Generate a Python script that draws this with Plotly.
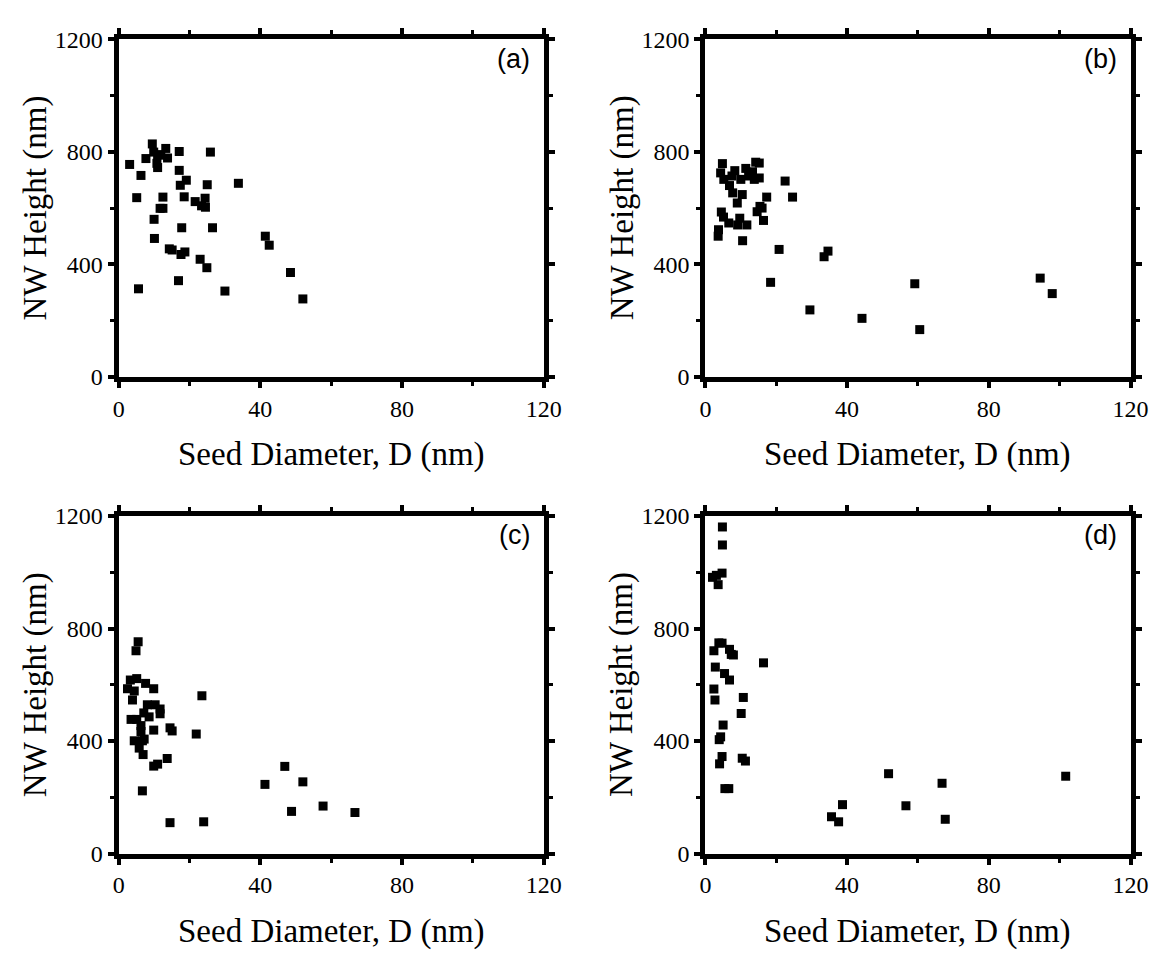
import plotly.graph_objects as go

# Panel (a)
a_d = [9.5, 13.3, 17.1, 25.9, 9.9, 11.0, 11.9, 13.8, 7.7, 3.1, 10.8, 11.0, 17.1, 6.3, 19.1, 17.4, 25.0, 33.8,
       5.1, 12.5, 18.5, 24.4, 21.6, 23.4, 24.5, 11.7, 12.5, 10.0, 17.8, 26.5, 41.4, 42.5, 10.1, 14.3, 15.1,
       17.6, 18.7, 23.0, 24.9, 48.5, 16.9, 5.6, 30.0, 52.0]
a_h = [828, 812, 801, 799, 799, 790, 788, 778, 776, 755, 759, 744, 734, 716, 699, 681, 683, 688,
       637, 639, 640, 635, 623, 608, 603, 599, 599, 560, 530, 530, 500, 468, 492, 455, 451,
       435, 444, 418, 388, 371, 342, 313, 305, 277]

# Panel (b)
b_d = [4.8, 4.3, 5.2, 7.5, 8.3, 10.0, 11.4, 12.2, 13.3, 13.8, 14.2, 15.2, 15.2, 6.8, 7.7, 10.4, 9.0, 17.3,
       22.5, 24.6, 15.4, 16.0, 14.6, 4.5, 5.1, 6.6, 9.7, 9.1, 11.7, 16.4, 3.7, 3.6, 10.5, 20.8, 34.6, 33.5,
       18.4, 29.5, 44.2, 60.5, 59.1, 94.5, 97.9]
b_h = [758, 725, 702, 714, 733, 702, 741, 714, 729, 702, 763, 760, 707, 680, 654, 648, 618, 639,
       696, 639, 606, 600, 587, 586, 568, 547, 564, 540, 540, 556, 523, 500, 484, 453, 447, 427,
       336, 238, 208, 168, 331, 351, 296]

# Panel (c)
c_d = [5.5, 4.9, 3.3, 5.1, 7.6, 9.9, 2.5, 4.4, 3.9, 23.5, 8.1, 10.3, 11.7, 11.7, 7.1, 8.6, 3.5, 5.1,
       6.3, 6.3, 9.9, 14.5, 15.1, 21.9, 4.4, 6.7, 7.2, 5.8, 6.9, 9.9, 11.0, 13.7, 6.7, 46.9, 41.3, 48.8,
       52.0, 57.7, 66.7, 24.0, 14.5]
c_h = [753, 721, 617, 622, 605, 586, 586, 578, 546, 561, 529, 529, 514, 497, 500, 486, 477, 477,
       455, 434, 439, 447, 436, 425, 401, 401, 407, 375, 352, 311, 318, 338, 223, 310, 246, 150,
       255, 169, 146, 113, 110]

# Panel (d)
d_d = [4.8, 4.8, 4.7, 2.0, 3.1, 3.6, 3.8, 4.7, 2.4, 6.8, 7.3, 7.9, 16.4, 2.8, 5.4, 6.8, 2.4, 2.7,
       10.7, 10.1, 5.0, 4.3, 3.9, 4.7, 4.0, 10.4, 11.3, 5.5, 6.6, 51.7, 66.8, 101.7, 38.7, 56.6, 35.6,
       37.6, 67.7]
d_h = [1161, 1097, 997, 982, 989, 956, 749, 748, 721, 726, 708, 706, 678, 663, 640, 617, 585, 546,
       555, 498, 457, 415, 405, 345, 319, 339, 329, 231, 231, 284, 250, 275, 174, 170, 131,
       113, 122]

panel_labels = ["(a)", "(b)", "(c)", "(d)"]
x_title = "Seed Diameter, D (nm)"
y_title = "NW Height (nm)"
x_ticks = [0, 40, 80, 120]
y_ticks = [0, 400, 800, 1200]

W, H = 1174, 960
# pixel boxes (left, right, top, bottom)
boxes = [(115, 549, 27, 374), (714, 1148, 27, 374), (115, 549, 517, 864), (714, 1148, 517, 864)]
series = [(a_d, a_h), (b_d, b_h), (c_d, c_h), (d_d, d_h)]

fig = go.Figure()
serif = "Liberation Serif, Times New Roman, serif"
sans = "Liberation Sans, Arial, sans-serif"

for i, ((l, r, t, b), (xs, ys)) in enumerate(zip(boxes, series)):
    n = "" if i == 0 else str(i + 1)
    fig.add_trace(go.Scatter(
        x=xs, y=ys, mode="markers", xaxis="x" + n, yaxis="y" + n,
        marker=dict(symbol="square", size=9, color="black", line=dict(width=0)),
        showlegend=False, cliponaxis=False))
    common = dict(showline=True, linecolor="black", linewidth=5, mirror="allticks",
                  ticks="outside", ticklen=6, tickwidth=4, tickcolor="black",
                  showgrid=False, zeroline=False,
                  tickfont=dict(family=serif, size=24, color="black"))
    fig.layout["xaxis" + n] = dict(common, domain=[l / W, r / W], range=[0, 120],
                                   tickvals=x_ticks, anchor="y" + n,
                                   minor=dict(ticks="outside", ticklen=4, tickwidth=3,
                                              tickcolor="black", dtick=20, tick0=0))
    fig.layout["yaxis" + n] = dict(common, domain=[1 - b / H, 1 - t / H], range=[0, 1200],
                                   tickvals=y_ticks, anchor="x" + n,
                                   minor=dict(ticks="outside", ticklen=4, tickwidth=3,
                                              tickcolor="black", dtick=200, tick0=0))
    # panel label
    fig.add_annotation(text=panel_labels[i], x=(r - 12) / W, y=1 - (t + 20) / H,
                       xref="paper", yref="paper", xanchor="right", yanchor="middle",
                       showarrow=False, font=dict(family=sans, size=27, color="black"))
    # x title
    fig.add_annotation(text=x_title, x=(l + r) / 2 / W, y=1 - (b + 80) / H,
                       xref="paper", yref="paper", xanchor="center", yanchor="middle",
                       showarrow=False, font=dict(family=serif, size=33, color="black"))
    # y title
    fig.add_annotation(text=y_title, x=(l - 85) / W, y=1 - (t + b) / 2 / H,
                       xref="paper", yref="paper", xanchor="center", yanchor="middle",
                       textangle=-90, showarrow=False,
                       font=dict(family=serif, size=33, color="black"))

fig.update_layout(width=W, height=H, autosize=False,
                  margin=dict(l=0, r=0, t=0, b=0),
                  paper_bgcolor="white", plot_bgcolor="white")

fig.write_html("out.html")
